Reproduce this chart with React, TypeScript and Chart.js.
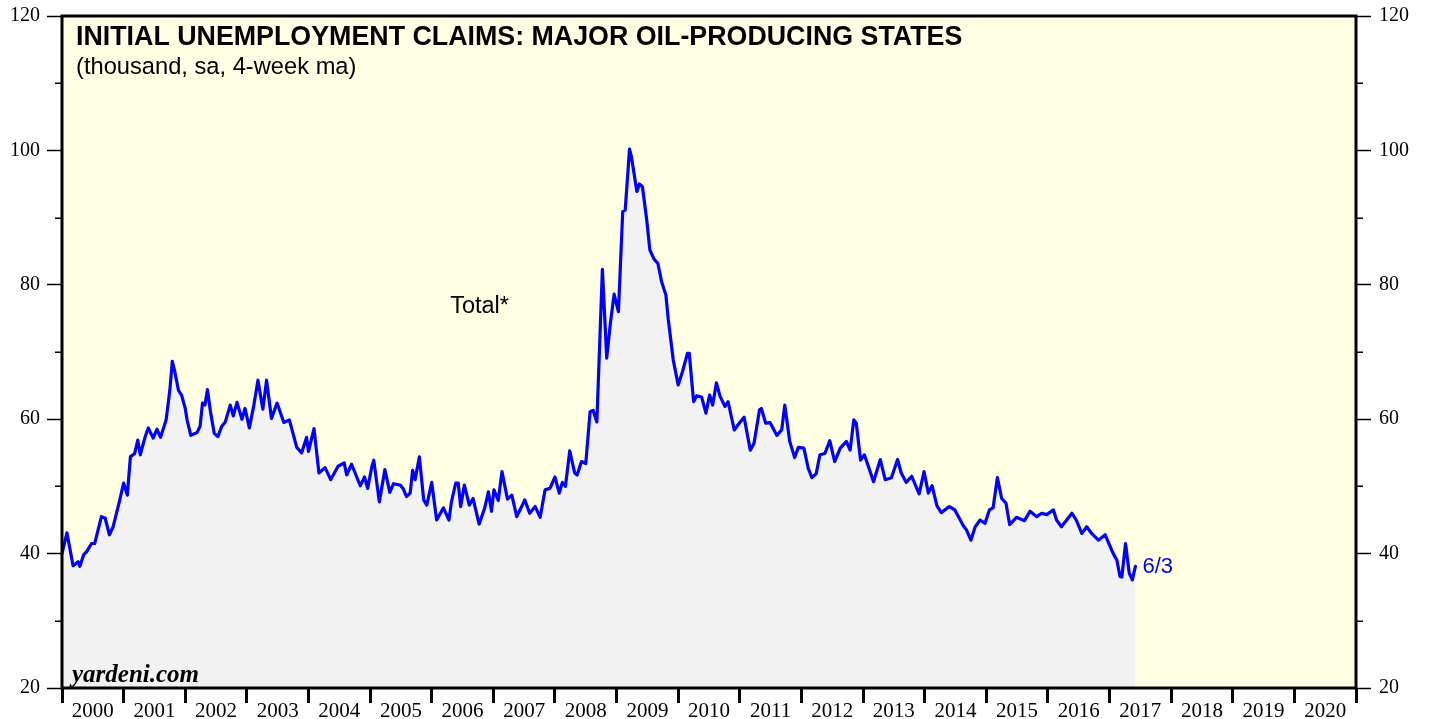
import React, { useEffect, useRef } from 'react';
import { Chart, registerables } from 'chart.js';

Chart.register(...registerables);

// Weekly initial claims (4-week moving average), thousands
const dates: number[] = [
  2000.00, 2000.08, 2000.18, 2000.26, 2000.29, 2000.35, 2000.40, 2000.48, 2000.53, 2000.64,
  2000.70, 2000.77, 2000.83, 2000.93, 2001.00, 2001.06, 2001.11, 2001.18, 2001.23, 2001.27,
  2001.35, 2001.40, 2001.48, 2001.54, 2001.60, 2001.69, 2001.75, 2001.79, 2001.83, 2001.89,
  2001.94, 2002.00, 2002.03, 2002.09, 2002.19, 2002.24, 2002.28, 2002.32, 2002.36, 2002.41,
  2002.47, 2002.53, 2002.59, 2002.65, 2002.73, 2002.78, 2002.84, 2002.92, 2002.97, 2003.04,
  2003.11, 2003.18, 2003.26, 2003.32, 2003.40, 2003.49, 2003.60, 2003.69, 2003.81, 2003.89,
  2003.97, 2004.00, 2004.09, 2004.17, 2004.27, 2004.36, 2004.48, 2004.58, 2004.62, 2004.70,
  2004.84, 2004.91, 2004.96, 2005.03, 2005.06, 2005.15, 2005.24, 2005.32, 2005.38, 2005.49,
  2005.54, 2005.59, 2005.65, 2005.69, 2005.73, 2005.80, 2005.87, 2005.92, 2006.00, 2006.08,
  2006.19, 2006.28, 2006.32, 2006.39, 2006.43, 2006.47, 2006.53, 2006.61, 2006.67, 2006.77,
  2006.86, 2006.92, 2006.97, 2007.01, 2007.08, 2007.14, 2007.23, 2007.30, 2007.38, 2007.46,
  2007.51, 2007.59, 2007.68, 2007.76, 2007.84, 2007.92, 2008.00, 2008.07, 2008.12, 2008.17,
  2008.24, 2008.32, 2008.36, 2008.43, 2008.50, 2008.57, 2008.62, 2008.68, 2008.77, 2008.84,
  2008.90, 2008.96, 2009.03, 2009.10, 2009.14, 2009.21, 2009.24, 2009.33, 2009.37, 2009.42,
  2009.49, 2009.54, 2009.61, 2009.67, 2009.73, 2009.80, 2009.84, 2009.92, 2010.00, 2010.07,
  2010.15, 2010.18, 2010.25, 2010.30, 2010.38, 2010.45, 2010.51, 2010.56, 2010.62, 2010.68,
  2010.76, 2010.81, 2010.91, 2010.99, 2011.07, 2011.17, 2011.23, 2011.32, 2011.35, 2011.42,
  2011.49, 2011.60, 2011.68, 2011.73, 2011.81, 2011.89, 2011.95, 2012.04, 2012.11, 2012.17,
  2012.24, 2012.30, 2012.38, 2012.46, 2012.54, 2012.63, 2012.73, 2012.79, 2012.85, 2012.89,
  2012.96, 2013.02, 2013.06, 2013.17, 2013.28, 2013.36, 2013.46, 2013.56, 2013.62, 2013.70,
  2013.79, 2013.91, 2013.99, 2014.06, 2014.12, 2014.20, 2014.27, 2014.40, 2014.49, 2014.63,
  2014.68, 2014.75, 2014.82, 2014.90, 2014.98, 2015.05, 2015.11, 2015.18, 2015.25, 2015.32,
  2015.38, 2015.49, 2015.62, 2015.71, 2015.82, 2015.90, 2015.98, 2016.09, 2016.14, 2016.22,
  2016.39, 2016.46, 2016.55, 2016.63, 2016.71, 2016.82, 2016.93, 2017.06, 2017.12, 2017.17,
  2017.20, 2017.26, 2017.32, 2017.37, 2017.42,
];

const claims: number[] = [
  40.0, 43.1, 38.2, 38.8, 38.1, 39.8, 40.3, 41.5, 41.5, 45.5,
  45.3, 42.8, 44.0, 47.7, 50.5, 48.7, 54.4, 54.9, 56.9, 54.7,
  57.4, 58.7, 57.2, 58.5, 57.3, 59.9, 64.3, 68.6, 67.1, 64.3,
  63.6, 61.6, 59.9, 57.6, 58.0, 58.9, 62.4, 62.1, 64.4, 61.1,
  57.9, 57.4, 58.9, 59.6, 62.1, 60.5, 62.5, 60.0, 61.6, 58.7,
  61.9, 65.8, 61.5, 65.8, 60.1, 62.4, 59.5, 59.9, 55.8, 55.0,
  57.3, 55.2, 58.6, 52.0, 52.8, 51.0, 53.0, 53.5, 51.7, 53.3,
  50.1, 51.4, 49.7, 53.0, 53.9, 47.7, 52.5, 49.1, 50.4, 50.2,
  49.6, 48.5, 49.0, 52.4, 51.0, 54.4, 48.0, 47.2, 50.6, 45.0,
  46.8, 45.0, 47.7, 50.5, 50.5, 47.0, 50.2, 47.2, 48.2, 44.4,
  46.8, 49.2, 46.3, 49.5, 47.9, 52.2, 48.1, 48.7, 45.5, 47.0,
  48.0, 46.0, 47.0, 45.4, 49.5, 49.7, 51.4, 49.0, 50.6, 50.0,
  55.3, 52.0, 51.7, 53.7, 53.4, 61.1, 61.3, 59.6, 82.3, 69.1,
  74.3, 78.6, 76.0, 90.9, 91.1, 100.2, 99.1, 93.9, 95.0, 94.6,
  89.6, 85.2, 83.8, 83.2, 80.5, 78.5, 74.8, 68.8, 65.1, 67.1,
  69.8, 69.8, 62.6, 63.5, 63.3, 60.9, 63.6, 62.1, 65.4, 63.4,
  61.9, 62.6, 58.4, 59.4, 60.3, 55.4, 56.4, 61.4, 61.6, 59.4,
  59.5, 57.6, 58.4, 62.1, 56.7, 54.3, 55.8, 55.7, 52.7, 51.3,
  51.9, 54.7, 54.9, 56.8, 53.7, 55.7, 56.7, 55.4, 59.9, 59.4,
  53.9, 54.7, 53.7, 50.7, 54.0, 51.0, 51.3, 54.0, 52.0, 50.6,
  51.5, 48.9, 52.2, 49.0, 50.1, 47.1, 46.1, 47.0, 46.5, 44.1,
  43.5, 42.0, 44.0, 45.0, 44.5, 46.5, 46.8, 51.3, 48.2, 47.5,
  44.3, 45.4, 44.9, 46.3, 45.5, 46.0, 45.8, 46.5, 45.0, 44.0,
  46.0, 45.0, 43.0, 44.0, 43.0, 42.0, 42.8, 40.0, 39.0, 36.6,
  36.5, 41.5, 37.1, 36.1, 38.1,
];

const yearLabels: number[] = [
  2000, 2001, 2002, 2003, 2004, 2005, 2006, 2007, 2008, 2009, 2010,
  2011, 2012, 2013, 2014, 2015, 2016, 2017, 2018, 2019, 2020,
];
const yMajorTicks: number[] = [20, 40, 60, 80, 100, 120];
const yMinorTicks: number[] = [30, 50, 70, 90, 110];

const titleText = 'INITIAL UNEMPLOYMENT CLAIMS: MAJOR OIL-PRODUCING STATES';
const subtitleText = '(thousand, sa, 4-week ma)';
const seriesLabel = 'Total*';
const lastDateLabel = '6/3';
const sourceText = 'yardeni.com';

const W = 1429;
const H = 719;

const decorPlugin = {
  id: 'decor',
  beforeDraw(chart: any) {
    const { ctx, chartArea: a } = chart;
    ctx.save();
    ctx.fillStyle = '#FFFFE3';
    ctx.fillRect(a.left, a.top, a.right - a.left, a.bottom - a.top);
    ctx.restore();
  },
  afterDatasetsDraw(chart: any) {
    const { ctx, chartArea: a, scales } = chart;
    const xs = scales.x;
    const ys = scales.y;
    ctx.save();
    ctx.fillStyle = '#000';
    ctx.textAlign = 'left';
    ctx.textBaseline = 'alphabetic';
    ctx.font = 'bold 26.8px "Liberation Sans", Arial, sans-serif';
    ctx.fillText(titleText, a.left + 14, a.top + 29);
    ctx.font = '23.7px "Liberation Sans", Arial, sans-serif';
    ctx.fillText(subtitleText, a.left + 14, a.top + 58);

    ctx.font = '23.5px "Liberation Sans", Arial, sans-serif';
    ctx.fillText(seriesLabel, xs.getPixelForValue(2006.3), ys.getPixelForValue(75.8));

    const lastX = xs.getPixelForValue(dates[dates.length - 1]);
    const lastY = ys.getPixelForValue(claims[claims.length - 1]);
    ctx.fillStyle = '#0000FF';
    ctx.font = '22px "Liberation Sans", Arial, sans-serif';
    ctx.textBaseline = 'middle';
    ctx.fillText(lastDateLabel, lastX + 7, lastY + 1);

    ctx.fillStyle = '#000';
    ctx.textBaseline = 'alphabetic';
    ctx.font = 'italic bold 25px "Liberation Serif", "Times New Roman", serif';
    ctx.fillText(sourceText, a.left + 10, a.bottom - 6);

    // minor y ticks on both sides
    ctx.strokeStyle = '#000';
    ctx.lineWidth = 1.5;
    yMinorTicks.forEach((v) => {
      const py = Math.round(ys.getPixelForValue(v)) + 0.25;
      ctx.beginPath();
      ctx.moveTo(a.left - 7, py);
      ctx.lineTo(a.left, py);
      ctx.moveTo(a.right, py);
      ctx.lineTo(a.right + 7, py);
      ctx.stroke();
    });

    // frame
    ctx.lineWidth = 3;
    ctx.strokeStyle = '#000';
    ctx.strokeRect(a.left, a.top, a.right - a.left, a.bottom - a.top);
    ctx.restore();
  },
};

export default function App() {
  const canvasRef = useRef<HTMLCanvasElement | null>(null);

  useEffect(() => {
    if (!canvasRef.current) return;
    const points = dates.map((d, i) => ({ x: d, y: claims[i] }));
    const yTickFont = { family: '"Liberation Serif", "Times New Roman", serif', size: 20 };
    const chart = new Chart(canvasRef.current, {
      type: 'line',
      data: {
        datasets: [
          {
            label: seriesLabel,
            data: points,
            borderColor: '#0000FF',
            borderWidth: 3.2,
            borderJoinStyle: 'round',
            borderCapStyle: 'round',
            backgroundColor: '#F2F2F2',
            fill: 'start',
            pointRadius: 0,
            tension: 0,
          },
        ],
      },
      options: {
        responsive: false,
        animation: false,
        events: [],
        layout: { padding: { top: 16, left: 0, right: 0, bottom: 0 } },
        plugins: {
          legend: { display: false },
          tooltip: { enabled: false },
          title: { display: false },
        },
        scales: {
          x: {
            type: 'linear',
            min: 2000,
            max: 2021,
            afterBuildTicks: (scale: any) => {
              scale.ticks = yearLabels.map((y) => ({ value: y + 0.5 }));
            },
            afterFit: (scale: any) => {
              scale.height = 31;
              scale.paddingLeft = 0;
              scale.paddingRight = 0;
            },
            border: { display: false },
            grid: {
              offset: true,
              drawOnChartArea: false,
              drawTicks: true,
              tickLength: 15,
              tickWidth: 3,
              tickColor: '#000',
            },
            ticks: {
              autoSkip: false,
              maxRotation: 0,
              minRotation: 0,
              padding: -4,
              color: '#000',
              font: { family: '"Liberation Serif", "Times New Roman", serif', size: 21 },
              callback: (v: any) => String(Math.floor(Number(v))),
            },
          },
          y: {
            type: 'linear',
            position: 'left',
            min: 20,
            max: 120,
            afterBuildTicks: (scale: any) => {
              scale.ticks = yMajorTicks.map((v) => ({ value: v }));
            },
            afterFit: (scale: any) => {
              scale.width = 62;
              scale.paddingTop = 0;
              scale.paddingBottom = 0;
            },
            border: { display: false },
            grid: {
              drawOnChartArea: false,
              tickLength: 15,
              tickWidth: 1.5,
              tickColor: '#000',
            },
            ticks: { padding: 7, color: '#000', font: yTickFont },
          },
          y2: {
            type: 'linear',
            position: 'right',
            min: 20,
            max: 120,
            afterBuildTicks: (scale: any) => {
              scale.ticks = yMajorTicks.map((v) => ({ value: v }));
            },
            afterFit: (scale: any) => {
              scale.width = 73;
              scale.paddingTop = 0;
              scale.paddingBottom = 0;
            },
            border: { display: false },
            grid: {
              drawOnChartArea: false,
              tickLength: 15,
              tickWidth: 1.5,
              tickColor: '#000',
            },
            ticks: { padding: 8, color: '#000', font: yTickFont },
          },
        },
      },
      plugins: [decorPlugin],
    });
    return () => chart.destroy();
  }, []);

  return (
    <div style={{ position: 'fixed', left: 0, top: 0, width: W, height: H, background: '#fff' }}>
      <canvas ref={canvasRef} width={W} height={H} style={{ display: 'block', width: W, height: H }} />
    </div>
  );
}
